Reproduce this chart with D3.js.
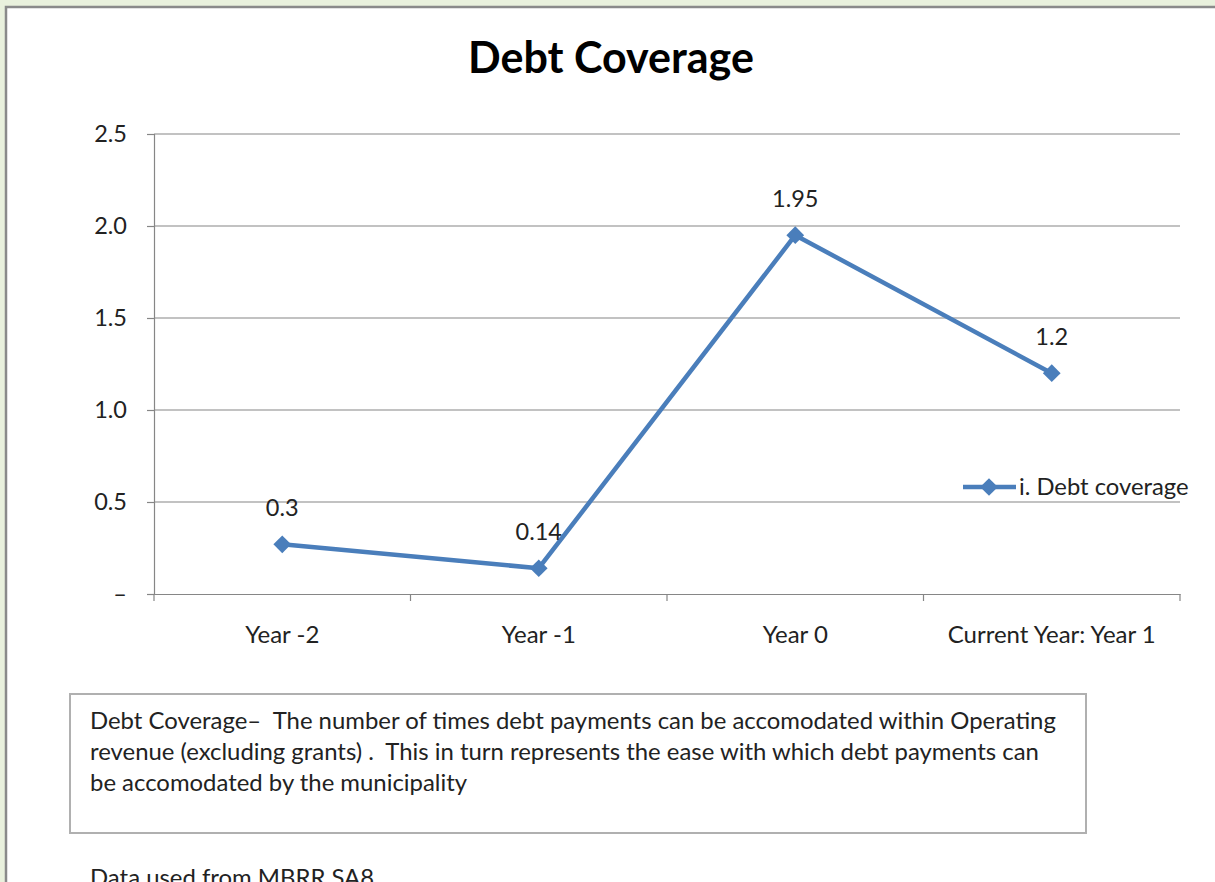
<!DOCTYPE html>
<html lang="en">
<head>
  <meta charset="UTF-8">
  <title>Debt Coverage</title>
  <style>
    body {
      margin: 0;
      background: #e9f1dd;
      font-family: Lato, "Open Sans", sans-serif;
      overflow: hidden;
    }
    #chart {
      position: absolute;
      left: 0;
      top: 0;
    }
  </style>
</head>
<body>
  <div id="chart"></div>

  <script src="https://d3js.org/d3.v7.min.js"></script>
  <script>
    // Chart data
    const categories = ["Year -2", "Year -1", "Year 0", "Current Year: Year 1"];
    const values = [0.27, 0.14, 1.95, 1.2];
    const valueLabels = ["0.3", "0.14", "1.95", "1.2"];
    const yTicks = [0, 0.5, 1.0, 1.5, 2.0, 2.5];
    const seriesName = "i. Debt coverage";

    const W = 1215, H = 882;
    const plot = { left: 154, right: 1180, top: 134, bottom: 594 };
    const blue = "#4a7ebb";
    const grid = "#868686";
    const fs = 23.5;

    const svg = d3.select("#chart").append("svg")
      .attr("width", W)
      .attr("height", H);

    // white page panel with grey border on top/left
    svg.append("rect")
      .attr("x", 6).attr("y", 7)
      .attr("width", W + 10).attr("height", H + 10)
      .attr("fill", "#fff")
      .attr("stroke", "#8a8a8a")
      .attr("stroke-width", 2.5);

    svg.append("text")
      .attr("x", 611).attr("y", 73)
      .attr("text-anchor", "middle")
      .attr("font-size", 43)
      .attr("font-weight", "bold")
      .attr("fill", "#000")
      .text("Debt Coverage");

    const x = d3.scaleBand()
      .domain(categories)
      .range([plot.left, plot.right]);

    const y = d3.scaleLinear()
      .domain([0, 2.5])
      .range([plot.bottom, plot.top]);

    // gridlines
    svg.append("g")
      .selectAll("line")
      .data(yTicks.filter(d => d > 0))
      .join("line")
      .attr("x1", plot.left).attr("x2", plot.right)
      .attr("y1", d => y(d)).attr("y2", d => y(d))
      .attr("stroke", grid)
      .attr("stroke-width", 1.2);

    // y axis
    const yAxis = svg.append("g")
      .attr("transform", `translate(${plot.left},0)`)
      .call(d3.axisLeft(y)
        .tickValues(yTicks)
        .tickSize(7)
        .tickPadding(20)
        .tickFormat(d => d === 0 ? "\u2013" : d3.format(".1f")(d)));
    yAxis.select(".domain").attr("stroke", grid).attr("stroke-width", 1.2);
    yAxis.selectAll(".tick line").attr("stroke", grid).attr("stroke-width", 1.2);
    yAxis.selectAll(".tick text")
      .attr("font-family", "Lato, sans-serif")
      .attr("font-size", fs)
      .attr("fill", "#222");

    // x axis
    const xAxis = svg.append("g")
      .attr("transform", `translate(0,${plot.bottom})`)
      .call(d3.axisBottom(x).tickSize(0).tickPadding(32));
    xAxis.select(".domain").attr("stroke", grid).attr("stroke-width", 1.2);
    xAxis.selectAll(".tick text")
      .attr("font-family", "Lato, sans-serif")
      .attr("font-size", 24)
      .attr("fill", "#222");

    // category boundary ticks
    const bounds = categories.map(c => x(c)).concat([plot.right]);
    svg.append("g")
      .selectAll("line")
      .data(bounds)
      .join("line")
      .attr("x1", d => d).attr("x2", d => d)
      .attr("y1", plot.bottom).attr("y2", plot.bottom + 7)
      .attr("stroke", grid)
      .attr("stroke-width", 1.2);

    const cx = d => x(d) + x.bandwidth() / 2;
    const pts = categories.map((c, i) => ({ c, v: values[i], label: valueLabels[i] }));

    // series line
    svg.append("path")
      .datum(pts)
      .attr("fill", "none")
      .attr("stroke", blue)
      .attr("stroke-width", 4.5)
      .attr("stroke-linejoin", "round")
      .attr("d", d3.line().x(d => cx(d.c)).y(d => y(d.v)));

    const diamond = d3.symbol().type(d3.symbolDiamond2).size(200);

    svg.append("g")
      .selectAll("path")
      .data(pts)
      .join("path")
      .attr("d", diamond)
      .attr("transform", d => `translate(${cx(d.c)},${y(d.v)})`)
      .attr("fill", blue);

    // data labels
    svg.append("g")
      .selectAll("text")
      .data(pts)
      .join("text")
      .attr("x", d => cx(d.c))
      .attr("y", d => y(d.v) - 28)
      .attr("text-anchor", "middle")
      .attr("font-size", fs)
      .attr("fill", "#222")
      .text(d => d.label);

    // legend
    const lg = svg.append("g").attr("transform", "translate(963,487)");
    lg.append("line")
      .attr("x1", 0).attr("x2", 53)
      .attr("stroke", blue).attr("stroke-width", 4.5);
    lg.append("path")
      .attr("d", diamond)
      .attr("transform", "translate(26,0)")
      .attr("fill", blue);
    lg.append("text")
      .attr("x", 56).attr("y", 8)
      .attr("font-size", 23.8)
      .attr("fill", "#222")
      .text(seriesName);

    // description box
    svg.append("rect")
      .attr("x", 70).attr("y", 694)
      .attr("width", 1016).attr("height", 139)
      .attr("fill", "#fff")
      .attr("stroke", "#b0b0b0")
      .attr("stroke-width", 2);

    const notes = [
      "Debt Coverage\u2013  The number of times debt payments can be accomodated within Operating",
      "revenue (excluding grants) .  This in turn represents the ease with which debt payments can",
      "be accomodated by the municipality"
    ];
    svg.append("g")
      .selectAll("text")
      .data(notes)
      .join("text")
      .attr("x", 90)
      .attr("y", (d, i) => 729 + i * 31)
      .attr("font-size", 23.9)
      .attr("fill", "#222")
      .attr("xml:space", "preserve")
      .style("white-space", "pre")
      .text(d => d);

    svg.append("text")
      .attr("x", 90).attr("y", 886)
      .attr("font-size", 23.9)
      .attr("fill", "#222")
      .text("Data used  from MBRR SA8");
  </script>
</body>
</html>
